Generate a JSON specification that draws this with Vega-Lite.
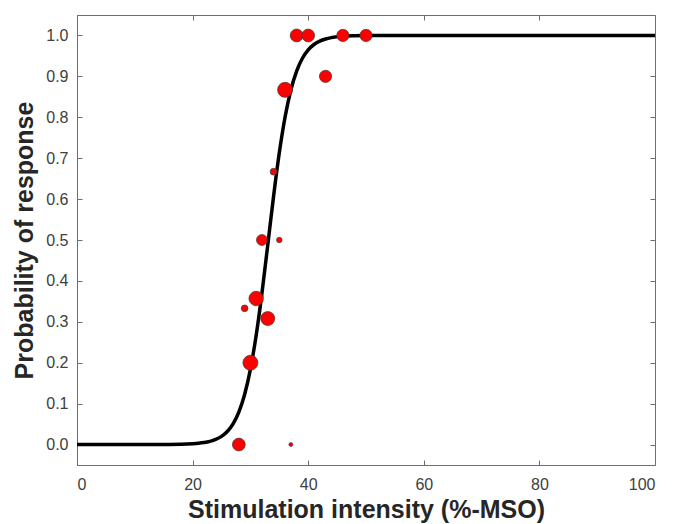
{
  "$schema": "https://vega.github.io/schema/vega-lite/v6.json",
  "width": 578,
  "height": 450,
  "autosize": "none",
  "padding": {"left": 77, "top": 15, "right": 18, "bottom": 59},
  "background": "white",
  "config": {
    "view": {"stroke": "#6e6e6e", "strokeWidth": 1},
    "axis": {
      "domainColor": "#6e6e6e",
      "domainWidth": 1,
      "tickColor": "#6e6e6e",
      "tickWidth": 1,
      "grid": false,
      "labelFont": "Liberation Sans",
      "labelFontSize": 16,
      "labelColor": "#404040",
      "titleFont": "Liberation Sans",
      "titleFontSize": 25,
      "titleFontWeight": "bold",
      "titleColor": "#262626"
    }
  },
  "datasets": {
    "curve": [
      {"intensity": 0, "p": 0},
      {"intensity": 10, "p": 0},
      {"intensity": 15, "p": 0.0002},
      {"intensity": 18, "p": 0.0007},
      {"intensity": 20, "p": 0.0019},
      {"intensity": 21, "p": 0.003},
      {"intensity": 22, "p": 0.0048},
      {"intensity": 23, "p": 0.0078},
      {"intensity": 24, "p": 0.0125},
      {"intensity": 25, "p": 0.02},
      {"intensity": 26, "p": 0.032},
      {"intensity": 27, "p": 0.0507},
      {"intensity": 28, "p": 0.0794},
      {"intensity": 29, "p": 0.1224},
      {"intensity": 30, "p": 0.1839},
      {"intensity": 31, "p": 0.2669},
      {"intensity": 32, "p": 0.3705},
      {"intensity": 33, "p": 0.4875},
      {"intensity": 34, "p": 0.6059},
      {"intensity": 35, "p": 0.713},
      {"intensity": 36, "p": 0.8006},
      {"intensity": 37, "p": 0.8665},
      {"intensity": 38, "p": 0.9129},
      {"intensity": 39, "p": 0.9443},
      {"intensity": 40, "p": 0.9648},
      {"intensity": 41, "p": 0.9779},
      {"intensity": 42, "p": 0.9862},
      {"intensity": 43, "p": 0.9914},
      {"intensity": 44, "p": 0.9947},
      {"intensity": 46, "p": 0.998},
      {"intensity": 48, "p": 0.9992},
      {"intensity": 50, "p": 0.9997},
      {"intensity": 55, "p": 1},
      {"intensity": 70, "p": 1},
      {"intensity": 100, "p": 1}
    ],
    "points": [
      {"intensity": 28, "p": 0, "trials": 11},
      {"intensity": 37, "p": 0, "trials": 1},
      {"intensity": 30, "p": 0.2, "trials": 15},
      {"intensity": 31, "p": 0.357, "trials": 14},
      {"intensity": 33, "p": 0.308, "trials": 13},
      {"intensity": 29, "p": 0.333, "trials": 3},
      {"intensity": 32, "p": 0.5, "trials": 8},
      {"intensity": 35, "p": 0.5, "trials": 2},
      {"intensity": 34, "p": 0.667, "trials": 3},
      {"intensity": 36, "p": 0.867, "trials": 15},
      {"intensity": 43, "p": 0.9, "trials": 10},
      {"intensity": 38, "p": 1, "trials": 11},
      {"intensity": 40, "p": 1, "trials": 11},
      {"intensity": 46, "p": 1, "trials": 10},
      {"intensity": 50, "p": 1, "trials": 10}
    ]
  },
  "layer": [
    {
      "data": {"name": "curve"},
      "mark": {"type": "line", "color": "black", "strokeWidth": 3.5, "interpolate": "monotone"},
      "encoding": {
        "x": {
          "field": "intensity", "type": "quantitative",
          "scale": {"domain": [0, 100], "nice": false, "zero": false},
          "axis": {"orient": "bottom", "values": [0, 20, 40, 60, 80, 100], "tickSize": -5, "labelPadding": 16, "title": "Stimulation intensity (%-MSO)", "titlePadding": 5}
        },
        "y": {
          "field": "p", "type": "quantitative",
          "scale": {"domain": [-0.05, 1.05], "nice": false, "zero": false},
          "axis": {"orient": "left", "values": [0, 0.1, 0.2, 0.3, 0.4, 0.5, 0.6, 0.7, 0.8, 0.9, 1], "format": ".1f", "tickSize": -5, "labelPadding": 14, "title": "Probability of response", "titlePadding": 8}
        }
      }
    },
    {
      "data": {"name": "points"},
      "mark": {"type": "point", "shape": "circle", "filled": true, "fill": "#ff0000", "stroke": "#3a3a3a", "strokeWidth": 0.7, "opacity": 1},
      "encoding": {
        "x": {
          "field": "intensity", "type": "quantitative",
          "axis": {"orient": "top", "values": [0, 20, 40, 60, 80, 100], "tickSize": -5, "labels": false, "domain": false, "title": null}
        },
        "y": {
          "field": "p", "type": "quantitative",
          "axis": {"orient": "right", "values": [0, 0.1, 0.2, 0.3, 0.4, 0.5, 0.6, 0.7, 0.8, 0.9, 1], "tickSize": -5, "labels": false, "domain": false, "title": null}
        },
        "size": {"field": "trials", "type": "quantitative", "scale": {"domain": [0, 15], "range": [0, 225]}, "legend": null}
      }
    }
  ],
  "resolve": {"axis": {"x": "independent", "y": "independent"}}
}
